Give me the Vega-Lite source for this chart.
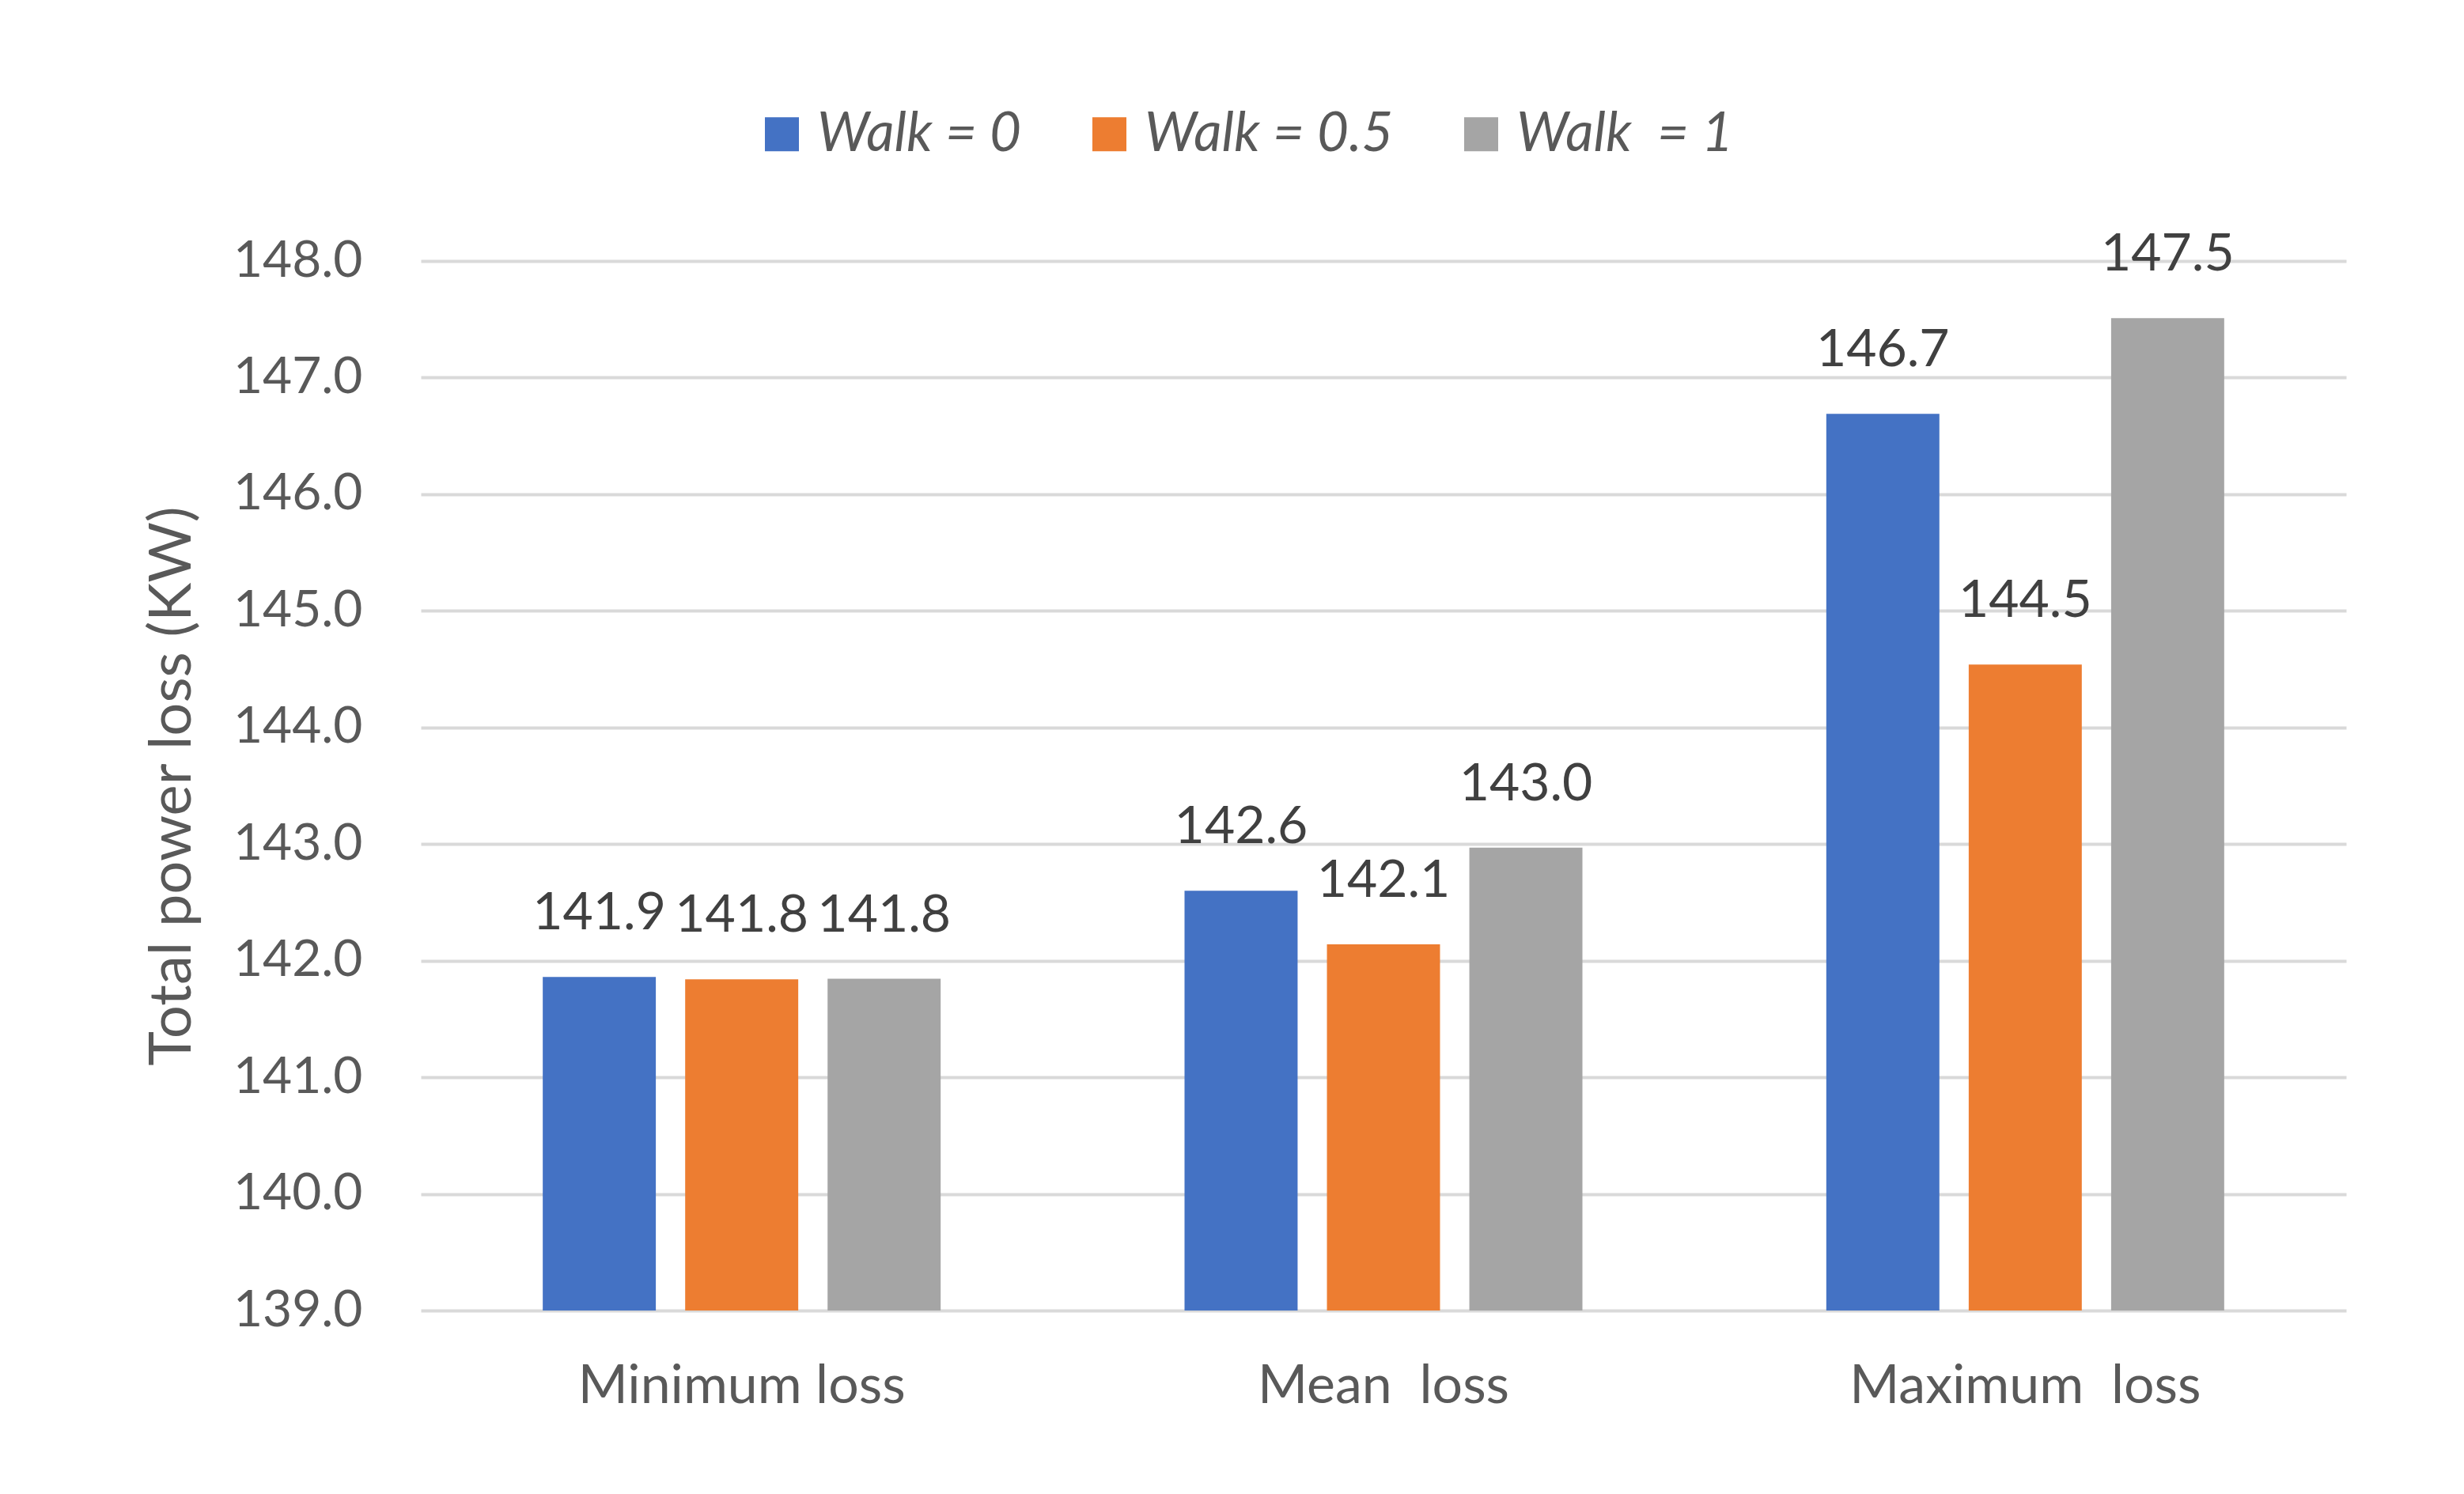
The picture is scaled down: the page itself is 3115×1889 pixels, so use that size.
{
  "$schema": "https://vega.github.io/schema/vega-lite/v6.json",
  "autosize": {"type": "none"},
  "width": 2434,
  "height": 1327,
  "padding": {"left": 532, "top": 330, "right": 149, "bottom": 232},
  "background": "white",
  "data": {
    "values": [
      {"case": "Minimum loss", "walk": "Walk = 0", "value": 141.86},
      {"case": "Minimum loss", "walk": "Walk = 0.5", "value": 141.84},
      {"case": "Minimum loss", "walk": "Walk\u00a0 = 1", "value": 141.845},
      {"case": "Mean\u00a0 loss", "walk": "Walk = 0", "value": 142.6},
      {"case": "Mean\u00a0 loss", "walk": "Walk = 0.5", "value": 142.14},
      {"case": "Mean\u00a0 loss", "walk": "Walk\u00a0 = 1", "value": 142.97},
      {"case": "Maximum\u00a0 loss", "walk": "Walk = 0", "value": 146.69},
      {"case": "Maximum\u00a0 loss", "walk": "Walk = 0.5", "value": 144.54},
      {"case": "Maximum\u00a0 loss", "walk": "Walk\u00a0 = 1", "value": 147.51}
    ]
  },
  "encoding": {
    "x": {
      "field": "case",
      "type": "nominal",
      "sort": ["Minimum loss", "Mean\u00a0 loss", "Maximum\u00a0 loss"],
      "scale": {"paddingInner": 0.38, "paddingOuter": 0.19},
      "axis": {
        "title": null,
        "labelAngle": 0,
        "domain": false,
        "ticks": false,
        "labelFont": "Lato",
        "labelFontSize": 68,
        "labelColor": "#595959",
        "labelPadding": 62,
        "labelBaseline": "top",
        "labelLimit": 0
      }
    },
    "xOffset": {
      "field": "walk",
      "type": "nominal",
      "sort": ["Walk = 0", "Walk = 0.5", "Walk\u00a0 = 1"],
      "scale": {"paddingInner": 0.206, "paddingOuter": 0}
    },
    "y": {
      "field": "value",
      "type": "quantitative",
      "scale": {"domain": [139, 148], "zero": false, "nice": false},
      "axis": {
        "title": "Total power loss (KW)",
        "values": [139, 140, 141, 142, 143, 144, 145, 146, 147, 148],
        "format": ".1f",
        "domain": false,
        "ticks": false,
        "grid": true,
        "gridColor": "#d9d9d9",
        "gridWidth": 4,
        "labelFont": "Lato",
        "labelFontSize": 64,
        "labelColor": "#595959",
        "labelPadding": 74,
        "titleFont": "Lato",
        "titleFontSize": 74,
        "titleFontWeight": "normal",
        "titleColor": "#595959",
        "titlePadding": 76
      }
    }
  },
  "layer": [
    {
      "mark": {"type": "bar"},
      "encoding": {
        "y2": {"datum": 139},
        "color": {
          "field": "walk",
          "type": "nominal",
          "scale": {
            "domain": ["Walk = 0", "Walk = 0.5", "Walk\u00a0 = 1"],
            "range": ["#4472C4", "#ED7D31", "#A5A5A5"]
          },
          "legend": {
            "title": null,
            "orient": "none",
            "direction": "horizontal",
            "legendX": 422,
            "legendY": -195,
            "symbolType": "square",
            "symbolSize": 1850,
            "symbolStrokeWidth": 0,
            "labelFont": "Lato",
            "labelFontStyle": "italic",
            "labelFontSize": 69,
            "labelColor": "#595959",
            "labelOffset": 10,
            "columnPadding": 76,
            "labelLimit": 1000
          }
        }
      }
    },
    {
      "mark": {
        "type": "text",
        "font": "Lato",
        "fontSize": 66,
        "color": "#404040",
        "baseline": "alphabetic",
        "dy": -60
      },
      "encoding": {
        "text": {"field": "value", "type": "quantitative", "format": ".1f"}
      }
    }
  ],
  "config": {
    "view": {"stroke": null}
  }
}
